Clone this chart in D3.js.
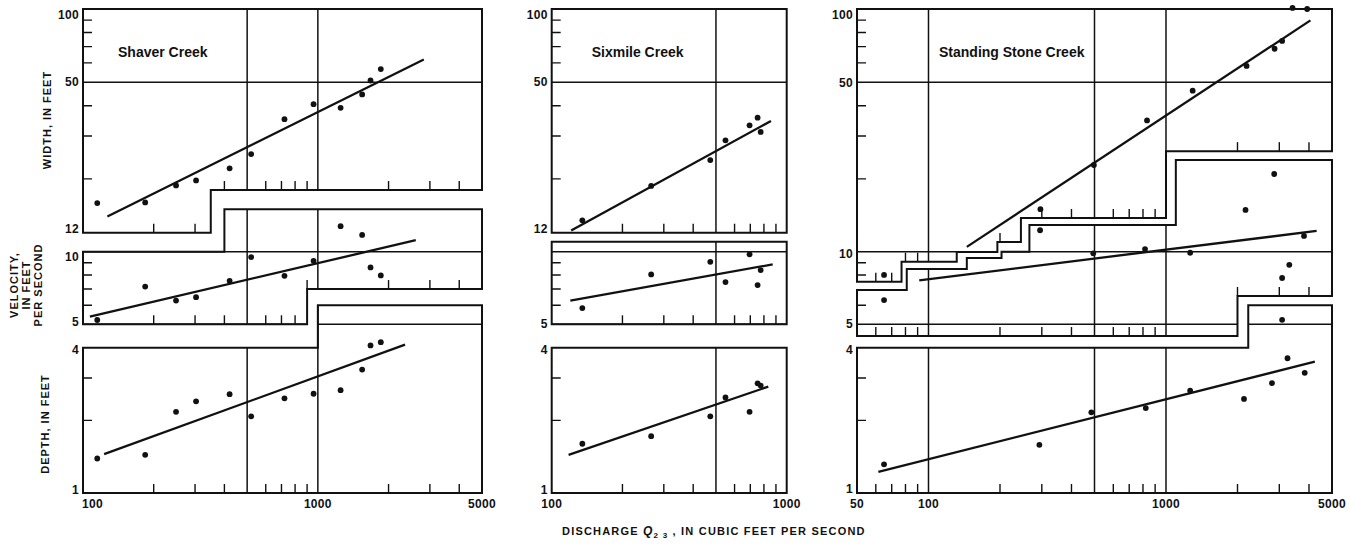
<!DOCTYPE html>
<html>
<head>
<meta charset="utf-8">
<script src="https://cdn.jsdelivr.net/npm/d3@7"></script>
<style>
    body { margin: 0; background: #fff; }
    text { font-family: "Liberation Sans", Arial, sans-serif; font-weight: bold; fill: #111; }
</style>
</head>
<body>
<script>

// Shaver Creek readings (discharge, width, velocity, depth)
let shaverQ = [115, 184, 249, 303, 421, 520, 721, 959, 1250, 1544, 1676, 1854];
let shaverWidth = [15.9, 16.0, 18.8, 19.7, 22.1, 25.3, 35.2, 40.6, 39.2, 44.5, 50.8, 56.6];
let shaverVelocity = [5.21, 7.17, 6.27, 6.48, 7.57, 9.5, 7.94, 9.17, 12.76, 11.74, 8.61, 7.97];
let shaverDepth = [1.39, 1.44, 2.17, 2.40, 2.57, 2.08, 2.47, 2.58, 2.67, 3.25, 4.09, 4.22];
let shaverWidthFit = [[127, 14.0], [2826, 62.0]];
let shaverVelocityFit = [[107, 5.38], [2612, 11.16]];
let shaverDepthFit = [[123, 1.45], [2351, 4.12]];

// Sixmile Creek
let sixmileQ = [135, 265, 473, 549, 695, 752, 775];
let sixmileWidth = [13.5, 18.7, 23.9, 28.8, 33.2, 35.7, 31.2];
let sixmileVelocity = [5.84, 8.05, 9.08, 7.48, 9.75, 7.27, 8.39];
let sixmileDepth = [1.60, 1.72, 2.08, 2.49, 2.17, 2.85, 2.79];
let sixmileWidthFit = [[121, 12.27], [857, 34.6]];
let sixmileVelocityFit = [[120, 6.27], [872, 8.86]];
let sixmileDepthFit = [[118, 1.44], [835, 2.76]];

// Standing Stone Creek
let standingWidthQ = [296, 497, 832, 1295, 2184, 2866, 3083, 3410, 3930];
let standingWidth = [15.0, 22.8, 34.8, 46.1, 58.3, 68.6, 73.9, 101, 100];
let standingVelocityQ = [65, 65, 295, 494, 816, 1264, 2162, 2855, 3083, 3083, 3305, 3812];
let standingVelocity = [8.01, 6.30, 12.27, 9.85, 10.25, 9.9, 14.9, 21.0, 7.78, 5.22, 8.82, 11.63];
let standingDepthQ = [65, 293, 485, 822, 1264, 2130, 2794, 3248, 3838];
let standingDepth = [1.315, 1.584, 2.16, 2.25, 2.66, 2.455, 2.855, 3.62, 3.15];
let standingWidthFit = [[145, 10.5], [4057, 89.8]];
let standingVelocityFit = [[91.4, 7.61], [4307, 12.19]];
let standingDepthFit = [[61.5, 1.223], [4235, 3.505]];

// tick values on the left edge of each section
let widthTicks = [20, 30, 40, 60, 70, 80, 90];
let velocityTicks = [6, 7, 8, 9];
let depthTicks = [2, 3];

let svgWidth = 1350;
let svgHeight = 550;

let svg = d3.select("body")
    .append("svg")
    .attr("width", svgWidth)
    .attr("height", svgHeight);

// the three stacked sections share their vertical log scales
let yScales = {
    w: d3.scaleLog().domain([10, 100]).range([252, 9]),
    v: d3.scaleLog().domain([5, 10]).range([324.3, 251.7]),
    d: d3.scaleLog().domain([1, 4]).range([493, 347.8])
};
let leftTicks = { w: widthTicks, v: velocityTicks, d: depthTicks };

let panels = [
    {
        id: "shaver",
        title: "Shaver Creek", titleDx: 35,
        x: d3.scaleLog().domain([100, 5000]).range([83, 482]),
        boxes: {
            w: { top: [[100, 5000, 100]], bot: [[100, 350, 12], [350, 5000, 18]] },
            v: { top: [[100, 400, 10], [400, 5000, 15]], bot: [[100, 900, 5], [900, 5000, 7]] },
            d: { top: [[100, 1000, 4], [1000, 5000, 6]], bot: [[100, 5000, 1]] }
        },
        vGrid: [500, 1000],
        minor: [200, 300, 400, 600, 700, 800, 900, 2000, 3000, 4000],
        yLabels: [["w", 100, "100", 6], ["w", 50, "50", 0], ["w", 12, "12", -4],
                  ["v", 10, "10", 5], ["v", 5, "5", -2], ["d", 4, "4", 2], ["d", 1, "1", -3]],
        xLabels: [[100, "100", "start"], [1000, "1000", "middle"], [5000, "5000", "middle"]],
        series: {
            w: [shaverQ, shaverWidth, shaverWidthFit],
            v: [shaverQ, shaverVelocity, shaverVelocityFit],
            d: [shaverQ, shaverDepth, shaverDepthFit]
        }
    },
    {
        id: "sixmile",
        title: "Sixmile Creek", titleDx: 40,
        x: d3.scaleLog().domain([100, 1000]).range([551.7, 786.7]),
        boxes: {
            w: { top: [[100, 1000, 100]], bot: [[100, 1000, 12]] },
            v: { top: [[100, 1000, 11]], bot: [[100, 1000, 5]] },
            d: { top: [[100, 1000, 4]], bot: [[100, 1000, 1]] }
        },
        vGrid: [500],
        minor: [200, 300, 400, 600, 700, 800, 900],
        yLabels: [["w", 100, "100", 6], ["w", 50, "50", 0], ["w", 12, "12", -4],
                  ["v", 5, "5", 0], ["d", 4, "4", 2], ["d", 1, "1", -3]],
        xLabels: [[100, "100", "middle"], [1000, "1000", "middle"]],
        series: {
            w: [sixmileQ, sixmileWidth, sixmileWidthFit],
            v: [sixmileQ, sixmileVelocity, sixmileVelocityFit],
            d: [sixmileQ, sixmileDepth, sixmileDepthFit]
        }
    },
    {
        id: "standing",
        title: "Standing Stone Creek", titleDx: 82,
        x: d3.scaleLog().domain([50, 5000]).range([857, 1332]),
        boxes: {
            w: { top: [[50, 5000, 100]],
                 bot: [[50, 77, 7.55], [77, 131.5, 9.12], [131.5, 195, 10], [195, 245, 11],
                       [245, 1000, 13.8], [1000, 5000, 26]] },
            v: { top: [[50, 81, 6.93], [81, 145, 8.48], [145, 203, 9.42], [203, 266, 10],
                       [266, 1100, 12.9], [1100, 5000, 24]],
                 bot: [[50, 2000, 4.47], [2000, 5000, 6.55]] },
            d: { top: [[50, 2220, 4], [2220, 5000, 6]], bot: [[50, 5000, 1]] }
        },
        vGrid: [100, 500, 1000],
        minor: [60, 70, 80, 90, 200, 300, 400, 600, 700, 800, 900, 2000, 3000, 4000],
        yLabels: [["w", 100, "100", 6], ["w", 50, "50", 1], ["v", 10, "10", 2],
                  ["v", 5, "5", 0], ["d", 4, "4", 2], ["d", 1, "1", -4]],
        xLabels: [[50, "50", "middle"], [100, "100", "middle"], [1000, "1000", "middle"], [5000, "5000", "middle"]],
        series: {
            w: [standingWidthQ, standingWidth, standingWidthFit],
            v: [standingVelocityQ, standingVelocity, standingVelocityFit],
            d: [standingDepthQ, standingDepth, standingDepthFit]
        }
    }
];

// outline of one section: top steps left to right, bottom steps right to left
function boxPath(x, y, box) {
    let pts = [];
    box.top.forEach(s => pts.push([x(s[0]), y(s[2])], [x(s[1]), y(s[2])]));
    box.bot.slice().reverse().forEach(s => pts.push([x(s[1]), y(s[2])], [x(s[0]), y(s[2])]));
    return "M" + pts.map(p => p.join(",")).join("L") + "Z";
}

function bottomAt(box, q) {
    let s = box.bot.find(s => q >= s[0] && q < s[1]);
    return s ? s[2] : null;
}

let keys = ["w", "v", "d"];

panels.forEach(function (p) {
    let x = p.x;
    let x0 = x.range()[0], x1 = x.range()[1];
    let g = svg.append("g");

    // union of the three sections, used to clip grid lines and ticks
    let clip = svg.append("clipPath").attr("id", "clip-" + p.id);
    keys.forEach(k => clip.append("path").attr("d", boxPath(x, yScales[k], p.boxes[k])));

    let inner = g.append("g").attr("clip-path", `url(#clip-${p.id})`)
        .attr("stroke", "#111").attr("fill", "none");

    // horizontal grid lines
    [["w", 50], ["v", 10], ["v", 5]].forEach(function (h) {
        let yy = yScales[h[0]](h[1]);
        inner.append("line")
            .attr("x1", x0).attr("x2", x1)
            .attr("y1", yy).attr("y2", yy)
            .attr("stroke-width", 1.5);
    });

    // vertical grid lines
    p.vGrid.forEach(function (q) {
        inner.append("line")
            .attr("x1", x(q)).attr("x2", x(q))
            .attr("y1", 0).attr("y2", 500)
            .attr("stroke-width", 1.5);
    });

    // left-edge ticks
    keys.forEach(function (k) {
        leftTicks[k].forEach(function (v) {
            let yy = yScales[k](v);
            inner.append("line")
                .attr("x1", x0).attr("x2", x0 + 9)
                .attr("y1", yy).attr("y2", yy)
                .attr("stroke-width", 1.4);
        });
    });

    // ticks standing on the bottom edge of every section
    keys.forEach(function (k) {
        p.minor.forEach(function (q) {
            let v = bottomAt(p.boxes[k], q);
            if (v === null) return;
            let yy = yScales[k](v);
            g.append("line")
                .attr("x1", x(q)).attr("x2", x(q))
                .attr("y1", yy).attr("y2", yy - 9)
                .attr("stroke", "#111")
                .attr("stroke-width", 1.4);
        });
    });

    // section outlines
    keys.forEach(function (k) {
        g.append("path")
            .attr("d", boxPath(x, yScales[k], p.boxes[k]))
            .attr("fill", "none")
            .attr("stroke", "#111")
            .attr("stroke-width", 2)
            .attr("stroke-linejoin", "miter");
    });

    // fitted lines and points
    keys.forEach(function (k) {
        let y = yScales[k];
        let s = p.series[k];
        let line = d3.line().x(d => x(d[0])).y(d => y(d[1]));

        g.append("path")
            .attr("d", line(s[2]))
            .attr("fill", "none")
            .attr("stroke", "#111")
            .attr("stroke-width", 2.3);

        g.selectAll(null)
            .data(d3.zip(s[0], s[1]))
            .enter()
            .append("circle")
            .attr("cx", d => x(d[0]))
            .attr("cy", d => y(d[1]))
            .attr("r", 2.9)
            .attr("fill", "#111");
    });

    // value labels on the left
    p.yLabels.forEach(function (l) {
        g.append("text")
            .attr("x", x0 - 4)
            .attr("y", yScales[l[0]](l[1]) + l[3])
            .attr("text-anchor", "end")
            .attr("dominant-baseline", "central")
            .attr("font-size", 12)
            .attr("letter-spacing", "0.3px")
            .text(l[2]);
    });

    // discharge labels under the panel
    p.xLabels.forEach(function (l) {
        g.append("text")
            .attr("x", l[2] === "start" ? x(l[0]) - 1 : x(l[0]))
            .attr("y", 508)
            .attr("text-anchor", l[2])
            .attr("font-size", 12)
            .attr("letter-spacing", "0.3px")
            .text(l[1]);
    });

    // creek name
    g.append("text")
        .attr("x", x0 + p.titleDx)
        .attr("y", 57)
        .attr("font-size", 14)
        .text(p.title);
});

// axis titles
function sideTitle(cx, cy, lines) {
    let t = svg.append("text")
        .attr("transform", `translate(${cx}, ${cy}) rotate(-90)`)
        .attr("text-anchor", "middle")
        .attr("font-size", 11)
        .attr("letter-spacing", "1px");
    lines.forEach(function (s, i) {
        t.append("tspan")
            .attr("x", 0)
            .attr("y", (i - (lines.length - 1) / 2) * 12 + 4)
            .text(s);
    });
}

sideTitle(47, 120, ["WIDTH, IN FEET"]);
sideTitle(26, 285, ["VELOCITY,", "IN FEET", "PER SECOND"]);
sideTitle(45, 424, ["DEPTH, IN FEET"]);

let xTitle = svg.append("text")
    .attr("x", 562)
    .attr("y", 535)
    .attr("font-size", 11)
    .attr("letter-spacing", "1.2px");
xTitle.append("tspan").text("DISCHARGE ");
xTitle.append("tspan").attr("font-style", "italic").attr("font-size", 12).text("Q");
xTitle.append("tspan").attr("font-size", 8).attr("dy", 3).text("2 3");
xTitle.append("tspan").attr("dy", -3).text(" , IN CUBIC FEET PER SECOND");

</script>
</body>
</html>
